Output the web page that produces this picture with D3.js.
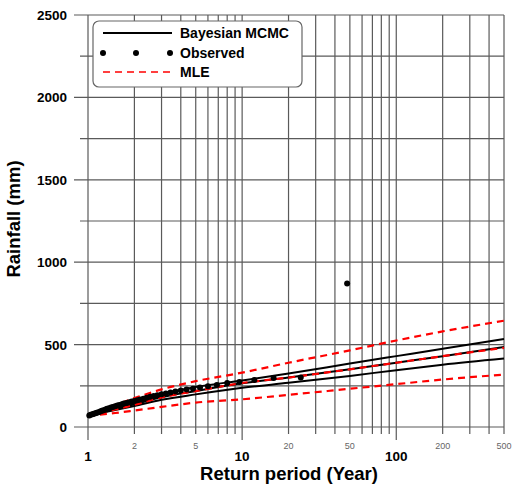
<!DOCTYPE html>
<html>
<head>
<meta charset="utf-8">
<script src="https://cdn.jsdelivr.net/npm/d3@7"></script>
<style>
  body { margin: 0; background: #fff; }
  svg { display: block; font-family: "Liberation Sans", Arial, sans-serif; }
</style>
</head>
<body>
<div id="chart"></div>
<script>
// return periods (years) used for the fitted curves
const curvePeriods = [1, 1.5, 2, 3, 5, 10, 20, 50, 100, 200, 500];

// Bayesian MCMC: median and 95% band
const bayesUpper = [72, 115, 150, 200, 243, 282, 325, 385, 430, 475, 534];
const bayesMid   = [70, 108, 138, 180, 218, 265, 300, 350, 390, 430, 485];
const bayesLower = [70, 103, 128, 165, 198, 238, 268, 310, 345, 378, 415];

// MLE: estimate and 95% band
const mleUpper = [73, 135, 175, 228, 278, 330, 390, 465, 525, 580, 645];
const mleMid   = [72, 106, 134, 180, 218, 267, 300, 350, 390, 430, 480];
const mleLower = [67, 85, 100, 122, 148, 168, 195, 232, 260, 288, 318];

// observed annual maxima with their plotting-position return periods
const obsPeriod = [48, 24, 16, 12, 9.6, 8, 6.86, 6, 5.33, 4.8, 4.36, 4, 3.69, 3.43, 3.2, 3,
  2.82, 2.67, 2.53, 2.4, 2.29, 2.18, 2.09, 2, 1.92, 1.85, 1.78, 1.71, 1.66, 1.6, 1.55, 1.5,
  1.45, 1.41, 1.37, 1.33, 1.3, 1.26, 1.23, 1.2, 1.17, 1.14, 1.12, 1.09, 1.07, 1.04, 1.02];
const obsRain = [870, 300, 297, 285, 273, 267, 255, 248, 240, 232, 228, 222, 215, 210, 204, 198,
  193, 188, 183, 178, 172, 167, 162, 158, 154, 150, 146, 142, 138, 134, 130, 126,
  122, 118, 114, 110, 106, 102, 98, 94, 90, 87, 84, 80, 77, 74, 70];

const xMajorLabels = [1, 10, 100];
const xMinorLabels = [2, 5, 20, 50, 200, 500];
const yLabels = [0, 500, 1000, 1500, 2000, 2500];

const W = 513, H = 487;
const svg = d3.select('#chart').append('svg').attr('width', W).attr('height', H);

const x = d3.scaleLog().domain([1, 500]).range([88, 504]);
const y = d3.scaleLinear().domain([0, 2500]).range([427, 15]);

// grid
const xGrid = [];
[1, 10, 100].forEach(d => { for (let k = 1; k <= 9; k++) if (d * k <= 500) xGrid.push(d * k); });
const yGrid = d3.range(0, 2501, 250);

const grid = svg.append('g').attr('stroke', '#5a5a5a').attr('stroke-width', 1.2);
grid.selectAll('line.v').data(xGrid).join('line')
  .attr('x1', d => x(d)).attr('x2', d => x(d))
  .attr('y1', y(2500))
  .attr('y2', d => xMajorLabels.includes(d) ? 440 : 434);
grid.selectAll('line.h').data(yGrid).join('line')
  .attr('y1', d => y(d)).attr('y2', d => y(d))
  .attr('x1', d => d % 500 === 0 ? 74 : 80)
  .attr('x2', x(500));

// y tick labels
svg.append('g').selectAll('text').data(yLabels).join('text')
  .attr('x', 67).attr('y', d => y(d) + 5)
  .attr('text-anchor', 'end').attr('font-size', 13.5).attr('font-weight', 'bold')
  .text(d => d);

// x tick labels
svg.append('g').selectAll('text').data(xMajorLabels).join('text')
  .attr('x', d => x(d)).attr('y', 461)
  .attr('text-anchor', 'middle').attr('font-size', 13.5).attr('font-weight', 'bold')
  .text(d => d);
svg.append('g').selectAll('text').data(xMinorLabels).join('text')
  .attr('x', d => x(d)).attr('y', 449)
  .attr('text-anchor', 'middle').attr('font-size', 9).attr('fill', '#666')
  .text(d => d);

// axis titles
svg.append('text')
  .attr('transform', 'translate(20,219) rotate(-90)')
  .attr('text-anchor', 'middle').attr('font-size', 18.5).attr('font-weight', 'bold')
  .text('Rainfall (mm)');
svg.append('text')
  .attr('x', 289).attr('y', 480)
  .attr('text-anchor', 'middle').attr('font-size', 18.5).attr('font-weight', 'bold')
  .text('Return period (Year)');

// curves
const line = d3.line().x(d => x(d[0])).y(d => y(d[1])).curve(d3.curveMonotoneX);
const pairs = vals => curvePeriods.map((p, i) => [p, vals[i]]);

const plot = svg.append('g').attr('fill', 'none');
[bayesUpper, bayesMid, bayesLower].forEach(v => {
  plot.append('path').attr('d', line(pairs(v)))
    .attr('stroke', '#000').attr('stroke-width', 2);
});
[mleUpper, mleMid, mleLower].forEach(v => {
  plot.append('path').attr('d', line(pairs(v)))
    .attr('stroke', '#ff0000').attr('stroke-width', 2.2).attr('stroke-dasharray', '7,5');
});

svg.append('g').selectAll('circle').data(obsPeriod).join('circle')
  .attr('cx', d => x(d)).attr('cy', (d, i) => y(obsRain[i])).attr('r', 3)
  .attr('fill', '#000');

// legend
const lg = svg.append('g');
lg.append('rect').attr('x', 93).attr('y', 21).attr('width', 209).attr('height', 66)
  .attr('rx', 6).attr('fill', '#fff').attr('stroke', '#666').attr('stroke-width', 1.2);
lg.append('line').attr('x1', 103).attr('x2', 172).attr('y1', 33).attr('y2', 33)
  .attr('stroke', '#000').attr('stroke-width', 2);
lg.selectAll('circle').data([103, 136, 170]).join('circle')
  .attr('cx', d => d).attr('cy', 53).attr('r', 3).attr('fill', '#000');
lg.append('line').attr('x1', 103).attr('x2', 172).attr('y1', 72).attr('y2', 72)
  .attr('stroke', '#ff0000').attr('stroke-width', 1.5).attr('stroke-dasharray', '7,5');
lg.selectAll('text').data(['Bayesian MCMC', 'Observed', 'MLE']).join('text')
  .attr('x', 180).attr('y', (d, i) => 38 + i * 19.5)
  .attr('font-size', 14).attr('font-weight', 'bold')
  .text(d => d);
</script>
</body>
</html>
